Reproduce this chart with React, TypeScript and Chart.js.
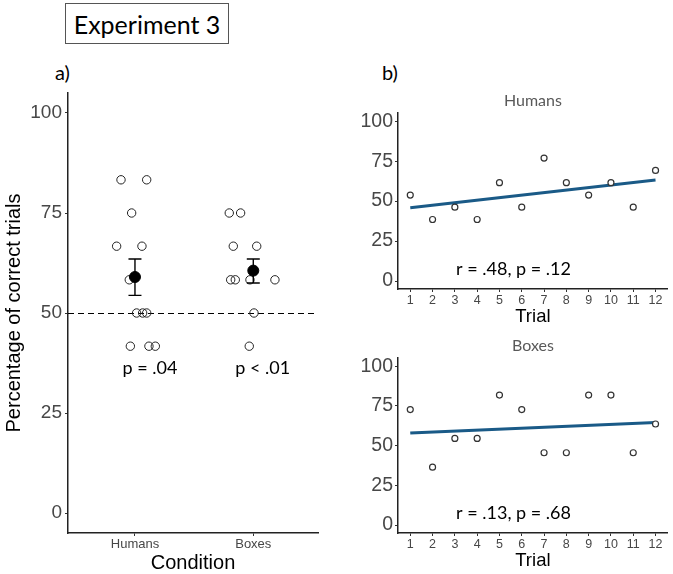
import React, { useEffect, useRef } from 'react';
import { Chart, registerables } from 'chart.js';

Chart.register(...registerables);
Chart.defaults.font.family = '"Liberation Sans", Arial, sans-serif';

// ---------- Panel a) data ----------
const conditionLabels = ['Humans', 'Boxes'];
const conditionPositions = [1, 2];
// jittered participant positions (x) and scores (y)
const humansX = [0.882, 1.099, 0.972, 0.845, 1.059, 0.952, 1.014, 1.065, 1.099, 0.961, 1.118, 1.172];
const humansY = [83.3, 83.3, 75, 66.7, 66.7, 58.3, 50, 50, 50, 41.7, 41.7, 41.7];
const boxesX = [1.797, 1.893, 1.831, 2.029, 1.809, 1.848, 1.972, 2.183, 2.006, 1.966];
const boxesY = [75, 75, 66.7, 66.7, 58.3, 58.3, 58.3, 58.3, 50, 41.7];
const conditionMeans = [59.0, 60.6];
const conditionErrLow = [54.4, 57.5];
const conditionErrHigh = [63.5, 63.5];
const chanceLevel = 50;
const pValueLabels = ['p = .04', 'p < .01'];
const pValueX = [1.127, 2.08];
const pValueY = 36.2;

const percentTicks = [0, 25, 50, 75, 100];

// ---------- Panel b) data ----------
const trials = [1, 2, 3, 4, 5, 6, 7, 8, 9, 10, 11, 12];
const humansTrialValues = [53.8, 38.5, 46.2, 38.5, 61.5, 46.2, 76.9, 61.5, 53.8, 61.5, 46.2, 69.2];
const boxesTrialValues = [72.7, 36.4, 54.5, 54.5, 81.8, 72.7, 45.5, 45.5, 81.8, 81.8, 45.5, 63.6];
const fitTrials = [1, 12];
const humansFit = [45.8, 63.2];
const boxesFit = [57.9, 64.6];
const humansCorr = 'r = .48, p = .12';
const boxesCorr = 'r = .13, p = .68';
const corrLabelX = 5.63;
const humansCorrY = 7.1;
const boxesCorrY = 7.5;

const ANNOT_FONT = '18px Lato, "Open Sans", sans-serif';
const TICK_GRAY = '#474747';

const textNotesPlugin = {
  id: 'textNotes',
  afterDatasetsDraw(chart: any, _args: any, opts: any) {
    const items = (opts && opts.items) || [];
    const { ctx } = chart;
    ctx.save();
    ctx.font = opts.font || ANNOT_FONT;
    ctx.fillStyle = opts.color || '#000';
    ctx.textAlign = 'center';
    ctx.textBaseline = 'middle';
    items.forEach((it: any) => {
      ctx.fillText(it.text, chart.scales.x.getPixelForValue(it.x), chart.scales.y.getPixelForValue(it.y));
    });
    ctx.restore();
  },
};

const conditionExtrasPlugin = {
  id: 'condExtras',
  beforeDatasetsDraw(chart: any) {
    const { ctx, chartArea } = chart;
    const y = Math.round(chart.scales.y.getPixelForValue(chanceLevel)) + 0.5;
    ctx.save();
    ctx.strokeStyle = '#000';
    ctx.lineWidth = 1.2;
    ctx.setLineDash([6, 4]);
    ctx.beginPath();
    ctx.moveTo(chartArea.left, y);
    ctx.lineTo(chartArea.right, y);
    ctx.stroke();
    ctx.restore();
  },
  afterDatasetDraw(chart: any, args: any) {
    if (args.index !== 1) return;
    const { ctx } = chart;
    const xs = chart.scales.x;
    const ys = chart.scales.y;
    ctx.save();
    ctx.strokeStyle = '#000';
    ctx.lineWidth = 1.4;
    conditionPositions.forEach((p, i) => {
      const x = xs.getPixelForValue(p);
      const yl = ys.getPixelForValue(conditionErrLow[i]);
      const yh = ys.getPixelForValue(conditionErrHigh[i]);
      const half = 6.5;
      ctx.beginPath();
      ctx.moveTo(x, yl);
      ctx.lineTo(x, yh);
      ctx.moveTo(x - half, yl);
      ctx.lineTo(x + half, yl);
      ctx.moveTo(x - half, yh);
      ctx.lineTo(x + half, yh);
      ctx.stroke();
    });
    ctx.restore();
  },
};

const gridStyle = { display: true, drawOnChartArea: false, drawTicks: true, tickLength: 3, color: '#333', lineWidth: 1 };
const borderStyle = { display: true, color: '#222', width: 1.5 };

function leftConfig(): any {
  return {
    type: 'scatter',
    data: {
      datasets: [
        {
          data: conditionPositions.map((x, i) => ({ x, y: conditionMeans[i] })),
          pointRadius: 5.5,
          pointBackgroundColor: '#000',
          pointBorderColor: '#000',
          pointBorderWidth: 1,
        },
        {
          data: humansX.map((x, i) => ({ x, y: humansY[i] })),
          pointRadius: 4.2,
          pointBackgroundColor: 'rgba(0,0,0,0)',
          pointBorderColor: '#222',
          pointBorderWidth: 1,
        },
        {
          data: boxesX.map((x, i) => ({ x, y: boxesY[i] })),
          pointRadius: 4.2,
          pointBackgroundColor: 'rgba(0,0,0,0)',
          pointBorderColor: '#222',
          pointBorderWidth: 1,
        },
      ],
    },
    options: {
      animation: false,
      responsive: false,
      layout: { padding: { top: 18, right: 12, left: 0, bottom: 0 } },
      plugins: {
        legend: { display: false },
        tooltip: { enabled: false },
        textNotes: {
          font: ANNOT_FONT,
          color: '#000',
          items: pValueLabels.map((t, i) => ({ text: t, x: pValueX[i], y: pValueY })),
        },
      },
      scales: {
        x: {
          type: 'linear',
          min: 0.434,
          max: 2.547,
          afterBuildTicks: (s: any) => {
            s.ticks = conditionPositions.map((v) => ({ value: v }));
          },
          afterFit: (s: any) => {
            s.height = 41;
          },
          ticks: {
            autoSkip: false,
            maxRotation: 0,
            padding: 1,
            color: TICK_GRAY,
            font: { size: 13 },
            callback: (v: any) => {
              const i = conditionPositions.indexOf(Number(v));
              return i >= 0 ? conditionLabels[i] : '';
            },
          },
          grid: gridStyle,
          border: borderStyle,
          title: {
            display: true,
            text: 'Condition',
            color: '#000',
            font: { size: 20, lineHeight: 1.1 },
            padding: { top: 0, bottom: 0 },
          },
        },
        y: {
          type: 'linear',
          min: -5,
          max: 105,
          afterBuildTicks: (s: any) => {
            s.ticks = percentTicks.map((v) => ({ value: v }));
          },
          afterFit: (s: any) => {
            s.width = 68;
          },
          ticks: { padding: 3, color: TICK_GRAY, font: { size: 19 } },
          grid: gridStyle,
          border: borderStyle,
          title: {
            display: true,
            text: 'Percentage of correct trials',
            color: '#000',
            font: { size: 20, lineHeight: 1.2 },
            padding: { top: 2, bottom: 0 },
          },
        },
      },
    },
    plugins: [conditionExtrasPlugin, textNotesPlugin],
  };
}

function trialConfig(title: string, values: number[], fit: number[], corr: string, corrY: number): any {
  return {
    type: 'scatter',
    data: {
      datasets: [
        {
          data: trials.map((t, i) => ({ x: t, y: values[i] })),
          pointRadius: 3,
          pointBackgroundColor: '#fff',
          pointBorderColor: '#333',
          pointBorderWidth: 1.2,
        },
        {
          data: fitTrials.map((t, i) => ({ x: t, y: fit[i] })),
          showLine: true,
          borderColor: '#1a5a87',
          borderWidth: 3,
          pointRadius: 0,
          fill: false,
        },
      ],
    },
    options: {
      animation: false,
      responsive: false,
      layout: { padding: { top: 0, right: 1, left: 0, bottom: 0 } },
      plugins: {
        legend: { display: false },
        tooltip: { enabled: false },
        title: {
          display: true,
          text: title,
          fullSize: false,
          color: '#595959',
          font: { family: 'Lato, "Open Sans", sans-serif', size: 16, weight: 'normal', lineHeight: 1.2 },
          padding: { top: 6, bottom: 3 },
        },
        textNotes: {
          font: ANNOT_FONT,
          color: '#000',
          items: [{ text: corr, x: corrLabelX, y: corrY }],
        },
      },
      scales: {
        x: {
          type: 'linear',
          min: 0.45,
          max: 12.55,
          afterBuildTicks: (s: any) => {
            s.ticks = trials.map((v) => ({ value: v }));
          },
          afterFit: (s: any) => {
            s.height = 41;
          },
          ticks: { autoSkip: false, maxRotation: 0, padding: 1, color: TICK_GRAY, font: { size: 12.5 } },
          grid: gridStyle,
          border: borderStyle,
          title: {
            display: true,
            text: 'Trial',
            color: '#000',
            font: { size: 18.5, lineHeight: 1.2 },
            padding: { top: 0, bottom: 2 },
          },
        },
        y: {
          type: 'linear',
          min: -5,
          max: 105,
          afterBuildTicks: (s: any) => {
            s.ticks = percentTicks.map((v) => ({ value: v }));
          },
          afterFit: (s: any) => {
            s.width = 58;
          },
          ticks: { padding: 2, color: TICK_GRAY, font: { size: 19.5 } },
          grid: gridStyle,
          border: borderStyle,
        },
      },
    },
    plugins: [textNotesPlugin],
  };
}

function ChartCanvas({ config, left, top, width, height }: any) {
  const ref = useRef<HTMLCanvasElement | null>(null);
  useEffect(() => {
    if (!ref.current) return;
    const chart = new Chart(ref.current, config());
    return () => chart.destroy();
  }, []);
  return (
    <canvas
      ref={ref}
      width={width}
      height={height}
      style={{ position: 'absolute', left, top, width, height }}
    />
  );
}

const labelStyle: any = {
  position: 'absolute',
  top: 61,
  fontFamily: 'Lato, "Open Sans", sans-serif',
  fontSize: 20,
  lineHeight: '22px',
  color: '#000',
};

export default function App() {
  return (
    <div
      style={{
        position: 'absolute',
        left: 0,
        top: 0,
        width: 673,
        height: 574,
        background: '#fff',
        overflow: 'hidden',
      }}
    >
      <div
        style={{
          position: 'absolute',
          left: 65,
          top: 3,
          width: 164,
          height: 41,
          boxSizing: 'border-box',
          border: '1px solid #555',
          display: 'flex',
          alignItems: 'center',
          justifyContent: 'center',
          fontFamily: 'Lato, "Open Sans", sans-serif',
          fontSize: 25,
          color: '#000',
        }}
      >
        Experiment 3
      </div>
      <div style={{ ...labelStyle, left: 55 }}>a)</div>
      <div style={{ ...labelStyle, left: 382 }}>b)</div>
      <ChartCanvas config={leftConfig} left={0} top={75} width={330} height={499} />
      <ChartCanvas
        config={() => trialConfig('Humans', humansTrialValues, humansFit, humansCorr, humansCorrY)}
        left={340}
        top={85}
        width={333}
        height={245}
      />
      <ChartCanvas
        config={() => trialConfig('Boxes', boxesTrialValues, boxesFit, boxesCorr, boxesCorrY)}
        left={340}
        top={330}
        width={333}
        height={244}
      />
    </div>
  );
}
